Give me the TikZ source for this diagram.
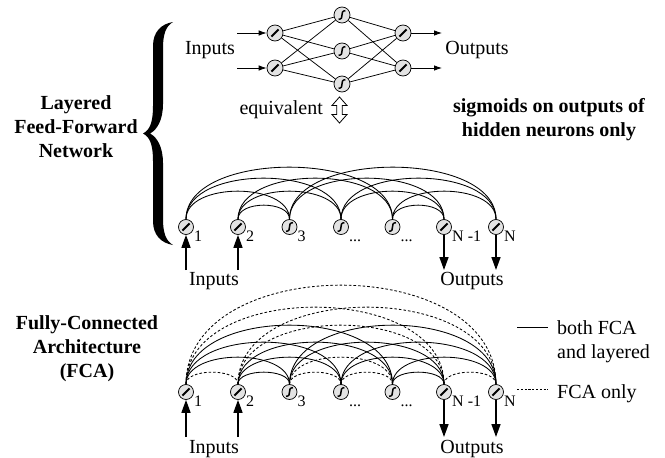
\documentclass[tikz,border=0pt]{standalone}
\usepackage{fontspec}
\setmainfont{Liberation Serif}
\usetikzlibrary{arrows.meta,calc}
\newcommand{\tridot}{...}
\begin{document}
\begin{tikzpicture}[x=1pt,y=-1pt,
  every node/.style={font=\fontsize{20}{24}\selectfont},
  unit/.style={circle,draw=black,fill=black!11,line width=0.7pt,inner sep=0pt,minimum size=#1},
  unit/.default=15pt,
  linunit/.style={unit=#1,path picture={\draw[line width=1.9pt]
      ($(path picture bounding box.center)+(-3.6pt,-3.6pt)$) --
      ($(path picture bounding box.center)+(3.6pt,3.6pt)$);}},
  linunit/.default=15pt,
  sigunit/.style={unit=#1,path picture={\draw[line width=1.5pt]
      ($(path picture bounding box.center)+(-3.4pt,-4.3pt)$) .. controls +(6.5pt,0pt) and +(-6.5pt,0pt) ..
      ($(path picture bounding box.center)+(3.4pt,4.3pt)$);}},
  sigunit/.default=15pt,
  lbl/.style={font=\fontsize{16}{18}\selectfont,inner sep=0pt,anchor=base west},
  bold/.style={font=\bfseries\fontsize{20}{24}\selectfont,align=center},
  link/.style={line width=0.75pt},
  arc/.style={line width=0.85pt},
  fcaarc/.style={line width=0.85pt,dash pattern=on 2.6pt off 2pt},
  bigarrow/.style={line width=1.5pt,-{Triangle[length=13pt,width=9pt]}},
  smallarrow/.style={line width=0.8pt,-{Latex[length=8pt,width=5.5pt]}}
]
\useasboundingbox (0,0) rectangle (665,458);

% ---------- brace grouping the layered network ----------
\fill (173,22) .. controls (161,24) and (153,32) .. (153,46) -- (153,106)
  .. controls (153,122) and (150,130) .. (143,133.5)
  .. controls (150,137) and (153,145) .. (153,161) -- (153,221)
  .. controls (153,235) and (161,243) .. (173,245)
  .. controls (166,241) and (163,233) .. (163,219) -- (163,163)
  .. controls (163,147) and (157,137) .. (150,133.5)
  .. controls (157,130) and (163,120) .. (163,104) -- (163,48)
  .. controls (163,34) and (166,26) .. (173,22) -- cycle;

\node[bold] (lfftitle) at (76,127) {Layered\\Feed-Forward\\Network};
\node[bold] (fcatitle) at (87,349) {Fully-Connected\\Architecture\\(FCA)};
\node[bold] (sigtitle) at (549,120) {sigmoids on outputs of\\hidden neurons only};

% ---------- layered network, layer view ----------
\node[linunit=16pt] (i1) at (275,33) {};
\node[linunit=16pt] (i2) at (275,68) {};
\node[sigunit=16pt] (h1) at (342,15) {};
\node[sigunit=16pt] (h2) at (342,51) {};
\node[sigunit=16pt] (h3) at (342,84) {};
\node[linunit=16pt] (o1) at (403,33) {};
\node[linunit=16pt] (o2) at (403,68) {};
\foreach \a in {i1,i2}{\foreach \b in {h1,h2,h3}{\draw[link] (\a) -- (\b);}}
\foreach \a in {h1,h2,h3}{\foreach \b in {o1,o2}{\draw[link] (\a) -- (\b);}}
\coordinate (ia1) at (237,33);
\coordinate (ia2) at (237,68);
\coordinate (oa1) at (442,33);
\coordinate (oa2) at (442,68);
\draw[smallarrow] (ia1) -- (i1);
\draw[smallarrow] (ia2) -- (i2);
\draw[smallarrow] (o1) -- (oa1);
\draw[smallarrow] (o2) -- (oa2);
\node (topin) at (210,50) {Inputs};
\node (topout) at (477,50) {Outputs};

% ---------- equivalence marker ----------
\node[anchor=base east,inner sep=0pt] (equiv) at (323,114) {equivalent};
\draw[line width=0.8pt,fill=white] (339.5,97) -- (347,105.5) -- (342.2,105.5) -- (342.2,114.5)
  -- (347,114.5) -- (339.5,123) -- (332,114.5) -- (336.8,114.5) -- (336.8,105.5)
  -- (332,105.5) -- cycle;

% ---------- layered network, chain view ----------
\foreach \n/\x/\t/\l in {1/186/linunit/1,2/238/linunit/2,3/289.5/sigunit/3,4/341/sigunit/\tridot,5/392.5/sigunit/\tridot,6/444/linunit/N -1,7/496/linunit/N}{
  \node[\t] (m\n) at (\x,227) {};
  \node[lbl] (ml\n) at ($(m\n)+(8,14)$) {\l};
}
\foreach \i/\j in {1/3,1/4,1/5,2/3,2/4,2/5,3/6,3/7,4/6,4/7,5/6,5/7}{
  \pgfmathsetmacro{\k}{{0,14,28,41,52}[\j-\i]/0.75}
  \draw[arc] (m\i.north) .. controls +(0,-\k) and +(0,-\k) .. (m\j.north);
}
\coordinate (min1) at (186,270);
\coordinate (min2) at (238,270);
\coordinate (mout6) at (444,270);
\coordinate (mout7) at (496,270);
\draw[bigarrow] (min1) -- (m1);
\draw[bigarrow] (min2) -- (m2);
\draw[bigarrow] (m6) -- (mout6);
\draw[bigarrow] (m7) -- (mout7);
\node (midin) at (214,281) {Inputs};
\node (midout) at (472,281) {Outputs};

% ---------- fully-connected architecture ----------
\foreach \n/\x/\t/\l in {1/186/linunit/1,2/238/linunit/2,3/289.5/sigunit/3,4/341/sigunit/\tridot,5/392.5/sigunit/\tridot,6/444/linunit/N -1,7/496/linunit/N}{
  \node[\t] (b\n) at (\x,392) {};
  \node[lbl] (bl\n) at ($(b\n)+(8,14)$) {\l};
}
\foreach \i/\j in {1/3,1/4,1/5,2/3,2/4,2/5,3/6,3/7,4/6,4/7,5/6,5/7}{
  \pgfmathsetmacro{\k}{{0,12,27,42,59,77,99}[\j-\i]/0.75}
  \draw[arc] (b\i.north) .. controls +(0,-\k) and +(0,-\k) .. (b\j.north);
}
\foreach \i/\j in {1/2,1/6,1/7,2/6,2/7,3/4,3/5,4/5,6/7}{
  \pgfmathsetmacro{\k}{{0,12,27,42,59,77,99}[\j-\i]/0.75}
  \draw[fcaarc] (b\i.north) .. controls +(0,-\k) and +(0,-\k) .. (b\j.north);
}
\coordinate (bin1) at (186,437);
\coordinate (bin2) at (238,437);
\coordinate (bout6) at (444,437);
\coordinate (bout7) at (496,437);
\draw[bigarrow] (bin1) -- (b1);
\draw[bigarrow] (bin2) -- (b2);
\draw[bigarrow] (b6) -- (bout6);
\draw[bigarrow] (b7) -- (bout7);
\node (botin) at (214,449) {Inputs};
\node (botout) at (472,449) {Outputs};

% ---------- legend ----------
\coordinate (ls1) at (517,327);
\coordinate (ls2) at (548,327);
\coordinate (ld1) at (517,389);
\coordinate (ld2) at (548,389);
\draw[line width=0.8pt] (ls1) -- (ls2);
\draw[line width=0.8pt,dash pattern=on 2.2pt off 1.6pt] (ld1) -- (ld2);
\node[anchor=base west,inner sep=0pt] (legboth) at (557,334) {both FCA};
\node[anchor=base west,inner sep=0pt] (leglay) at (557,358) {and layered};
\node[anchor=base west,inner sep=0pt] (legfca) at (557,398) {FCA only};
\end{tikzpicture}
\end{document}
